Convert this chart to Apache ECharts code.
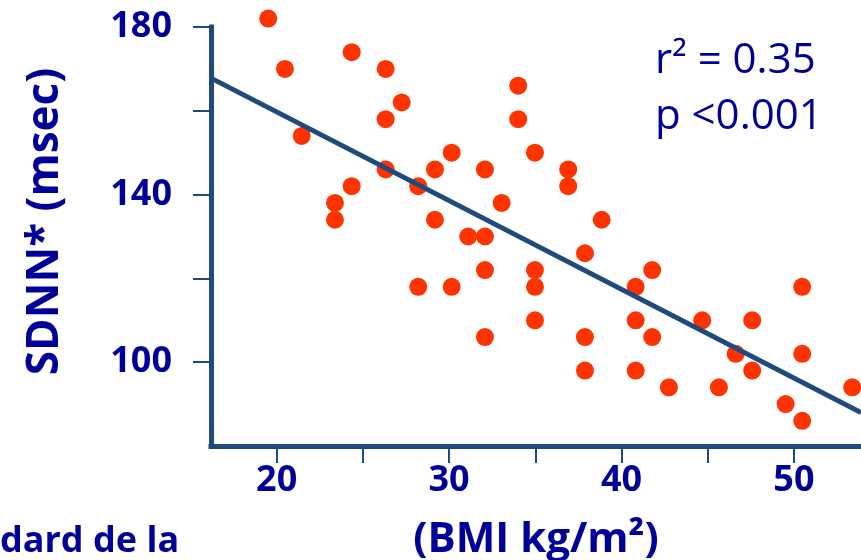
<!DOCTYPE html>
<html>
<head>
<meta charset="utf-8">
<script src="https://cdn.jsdelivr.net/npm/echarts@6/dist/echarts.min.js"></script>
<style>
html,body{margin:0;padding:0;background:#fff;}
#chart{width:861px;height:560px;}
</style>
</head>
<body>
<div id="chart"></div>
<script>
// BMI (kg/m2) values of the points
const bmi = [19.51, 20.48, 21.45, 23.38, 23.38, 24.35, 24.35, 26.32, 26.32, 26.32,
  27.25, 28.21, 28.21, 29.18, 29.18, 30.15, 30.15, 31.11, 32.08, 32.08,
  32.08, 32.08, 33.05, 34.01, 34.01, 34.98, 34.98, 34.98, 34.98, 36.91,
  36.91, 37.88, 37.88, 37.88, 38.85, 40.82, 40.82, 40.82, 41.78, 41.78,
  42.75, 44.68, 45.65, 46.62, 47.58, 47.58, 49.52, 50.48, 50.48, 50.48,
  53.38];
// SDNN (msec) values of the points
const sdnn = [182, 170, 154, 138, 134, 174, 142, 170, 158, 146,
  162, 142, 118, 146, 134, 150, 118, 130, 146, 130,
  122, 106, 138, 166, 158, 150, 122, 118, 110, 146,
  142, 126, 106, 98, 134, 118, 110, 98, 122, 106,
  94, 110, 94, 102, 110, 98, 90, 118, 102, 86,
  94];
// regression line end points [bmi, sdnn]
const fitLine = [[16.19, 167.8], [53.89, 88.0]];
const xTicks = [20, 25, 30, 35, 40, 45, 50];
const xLabels = [20, 30, 40, 50];
const yTicks = [100, 120, 140, 160, 180];
const yLabels = [100, 140, 180];
const yName = 'SDNN* (msec)';
const xName = '(BMI kg/m²)';
const statsText = 'r² = 0.35\np <0.001';
const cutText = 'dard de la';

const NAVY = '#000099';
const AXIS = '#1F4A7C';
const FONT = '"Open Sans"';

const chart = echarts.init(document.getElementById('chart'));
chart.setOption({
  animation: false,
  backgroundColor: '#ffffff',
  grid: {left: 211, right: 0, top: 27, bottom: 114, containLabel: false, outerBoundsMode: 'none'},
  xAxis: {
    type: 'value', min: 16.19, max: 53.89,
    splitLine: {show: false},
    axisLine: {show: true, lineStyle: {color: AXIS, width: 5, cap: 'square'}},
    axisTick: {show: true, customValues: xTicks, length: 17, lineStyle: {color: AXIS, width: 2}},
    axisLabel: {customValues: xLabels, margin: 17, color: NAVY, fontFamily: 'Open Sans', fontWeight: 'bold', fontSize: 36},
    name: xName, nameLocation: 'middle', nameGap: 73,
    nameTextStyle: {color: NAVY, fontFamily: 'Open Sans', fontWeight: 'bold', fontSize: 42}
  },
  yAxis: {
    type: 'value', min: 80, max: 180,
    splitLine: {show: false},
    axisLine: {show: true, lineStyle: {color: AXIS, width: 5, cap: 'square'}},
    axisTick: {show: true, customValues: yTicks, length: 18, lineStyle: {color: AXIS, width: 2}},
    axisLabel: {customValues: yLabels, margin: 39, color: NAVY, fontFamily: 'Open Sans', fontWeight: 'bold', fontSize: 36},
    name: yName, nameLocation: 'middle', nameGap: 144, nameRotate: 90,
    nameTextStyle: {color: NAVY, fontFamily: 'Open Sans', fontWeight: 'bold', fontSize: 44, padding: [0, 0, 0, 30]}
  },
  series: [
    {
      type: 'scatter',
      data: bmi.map((v, i) => [v, sdnn[i]]),
      symbol: 'circle', symbolSize: 18,
      itemStyle: {color: '#FF3300', opacity: 1},
      clip: false,
      z: 2
    },
    {
      type: 'line',
      data: fitLine,
      showSymbol: false, symbol: 'none',
      lineStyle: {color: AXIS, width: 5},
      z: 3
    }
  ],
  graphic: [
    {type: 'text', left: 655, top: 33, z: 10,
      style: {text: statsText, fill: NAVY, font: '42px ' + FONT, lineHeight: 56}},
    {type: 'text', left: 0, top: 524, z: 10,
      style: {text: cutText, fill: NAVY, font: 'bold 36px ' + FONT}}
  ]
});
</script>
</body>
</html>
